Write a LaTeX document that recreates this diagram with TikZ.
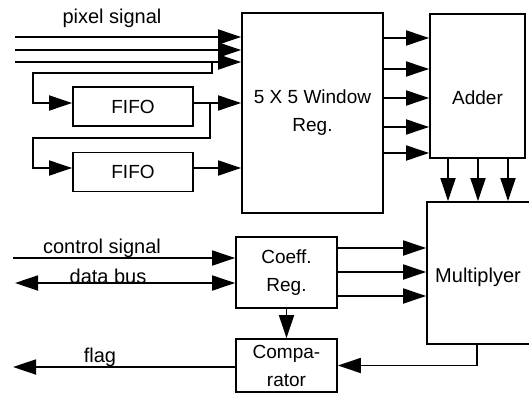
\documentclass[tikz,border=0pt]{standalone}
\usepackage{fontspec}
\setmainfont{Liberation Sans}
\usetikzlibrary{arrows.meta}
\begin{document}
\begin{tikzpicture}[x=1pt,y=-1pt, line width=1.8pt,
  box/.style={draw, rectangle, inner sep=0pt, align=center, font=\fontsize{19}{28}\selectfont},
  lbl/.style={font=\fontsize{20}{24}\selectfont, inner sep=0pt},
  arr/.style={-{Triangle[length=23pt,width=15pt]}},
  darr/.style={{Triangle[length=23pt,width=15pt]}-{Triangle[length=23pt,width=15pt]}}]
\useasboundingbox (0,0) rectangle (529,393);
\clip (0,0) rectangle (529,393);

% boxes
\node[box, minimum width=141pt, minimum height=200pt] (win) at (312.5,113) {5 X 5 Window\\Reg.};
\node[box, minimum width=95pt, minimum height=144pt,
      label={[font=\fontsize{19}{28}\selectfont, inner sep=0pt, yshift=-12pt]center:Adder}] (add) at (477.5,86) {};
\node[box, minimum width=120pt, minimum height=39pt] (f1) at (133,106.5) {FIFO};
\node[box, minimum width=120pt, minimum height=39pt] (f2) at (133,172) {FIFO};
\node[box, minimum width=101pt, minimum height=71pt] (coef) at (286.5,272.5) {Coeff.\\Reg.};
\node[box, minimum width=101pt, minimum height=53pt] (comp) at (286.5,365.5) {Compa-\\rator};
\node[box, minimum width=120pt, minimum height=142pt] (mul) at (487,273) {};
\node[lbl] (multxt) at (478,277) {Multiplyer};

% labels
\node[lbl, anchor=base] (ps) at (112,23.5) {pixel signal};
\node[lbl, anchor=base] (cs) at (102,253) {control signal};
\node[lbl, anchor=base] (dbl) at (108,283.5) {data bus};
\node[lbl, anchor=base] (fll) at (100,362) {flag};

% free ends
\coordinate (p1) at (15,37);
\coordinate (p2) at (15,50);
\coordinate (p3) at (15,62);
\coordinate (csin) at (13,258);
\coordinate (db) at (15,283);
\coordinate (fl) at (13,367);
\coordinate (f1i) at ([yshift=3.5pt]f1.west);
\coordinate (f1o) at ([yshift=3.5pt]f1.east);
\coordinate (f2i) at ([yshift=4pt]f2.west);
\coordinate (f2o) at ([yshift=4pt]f2.east);

% pixel signal
\foreach \c in {p1,p2,p3} \draw[arr] (\c) -- (\c -| win.west);
\draw[arr] (212,62) -- (212,73) -- (33,73) |- (f1i);
\draw[arr] (f1o) -- (f1o -| win.west);
\draw[arr] (210,103) -- (210,138) -- (33,138) |- (f2i);
\draw[arr] (f2o) -- (f2o -| win.west);

% window -> adder
\foreach \y in {38,69,98,127,153} \draw[arr] (win.east |- 0,\y) -- (add.west |- 0,\y);
% adder -> multiplyer
\foreach \x in {448,478,508} \draw[arr] (add.south -| \x,0) -- (mul.north -| \x,0);
% coeff -> multiplyer
\foreach \y in {248,272,296} \draw[arr] (coef.east |- 0,\y) -- (mul.west |- 0,\y);
\draw[arr] (coef.south) -- (comp.north);
\draw[arr] (csin) -- (csin -| coef.west);
\draw[darr] (db) -- (db -| coef.west);
\draw[arr] (comp.west |- fl) -- (fl);
\draw[arr] (mul.south -| 477,0) |- (comp.east);
\end{tikzpicture}
\end{document}
